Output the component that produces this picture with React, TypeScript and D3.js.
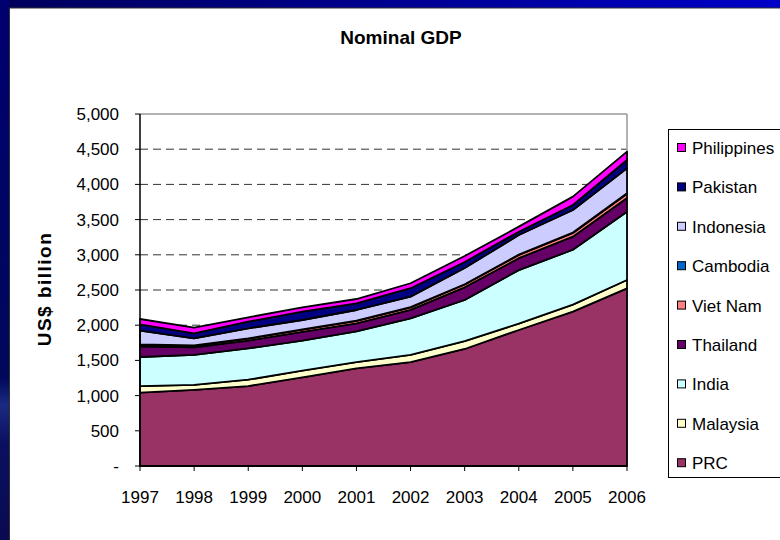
import React from "react";
import * as d3 from "d3";

const years = ["1997", "1998", "1999", "2000", "2001", "2002", "2003", "2004", "2005", "2006"];
const seriesNames = ["PRC", "Malaysia", "India", "Thailand", "Viet Nam", "Cambodia", "Indonesia", "Pakistan", "Philippines"];
const PRC = [1041, 1080, 1136, 1260, 1388, 1477, 1662, 1932, 2192, 2524];
const Malaysia = [95, 72, 90, 94, 88, 100, 113, 90, 100, 118];
const India = [412, 427, 445, 426, 435, 520, 583, 760, 780, 970];
const Thailand = [150, 105, 110, 125, 116, 120, 180, 170, 185, 195];
const VietNam = [27, 27, 29, 31, 33, 35, 40, 45, 53, 61];
const Cambodia = [3, 3, 3, 4, 4, 4, 4, 5, 6, 7];
const Indonesia = [194, 100, 142, 134, 152, 150, 230, 279, 320, 353];
const Pakistan = [90, 70, 95, 118, 95, 119, 86, 47, 71, 119];
const Philippines = [76, 80, 62, 62, 61, 71, 85, 72, 119, 118];
const seriesValues = [PRC, Malaysia, India, Thailand, VietNam, Cambodia, Indonesia, Pakistan, Philippines];
const seriesColors = ["#993366", "#FFFFCC", "#CCFFFF", "#660066", "#FF8080", "#0066CC", "#CCCCFF", "#000080", "#FF00FF"];
const yTicks = [0, 500, 1000, 1500, 2000, 2500, 3000, 3500, 4000, 4500, 5000];

const FONT = "Liberation Sans, Arial, Helvetica, sans-serif";

export default function App() {
  const W = 780, H = 540;
  const left = 140, right = 627, top = 114, bottom = 466;
  const x = d3.scalePoint<string>().domain(years).range([left, right]);
  const y = d3.scaleLinear().domain([0, 5000]).range([bottom, top]);

  const table = years.map((yr, i) => {
    const row: any = { year: yr };
    seriesNames.forEach((n, k) => (row[n] = seriesValues[k][i]));
    return row;
  });
  const stacked = d3.stack<any>().keys(seriesNames)(table);
  const area = d3
    .area<any>()
    .x((d) => x(d.data.year) as number)
    .y0((d) => y(d[0]))
    .y1((d) => y(d[1]));

  const fmt = (v: number) => (v === 0 ? "-" : d3.format(",")(v));
  const legendOrder = [...seriesNames].reverse();
  const legendTop = 148, legendStep = 39.4;

  return (
    <svg width={W} height={H} style={{ position: "absolute", left: 0, top: 0, display: "block" }}>
      <defs>
        <linearGradient id="topbar" x1="0" y1="0" x2="1" y2="0">
          <stop offset="0" stopColor="#00005a" />
          <stop offset="1" stopColor="#0000c8" />
        </linearGradient>
        <linearGradient id="leftbar" x1="0" y1="0" x2="0" y2="1">
          <stop offset="0" stopColor="#000070" />
          <stop offset="0.7" stopColor="#00085a" />
          <stop offset="0.75" stopColor="#1a2a80" />
          <stop offset="0.82" stopColor="#0a1060" />
          <stop offset="1" stopColor="#0a0a50" />
        </linearGradient>
      </defs>
      <rect x={0} y={0} width={W} height={H} fill="#ffffff" />
      <rect x={0} y={0} width={W} height={8} fill="url(#topbar)" />
      <rect x={0} y={0} width={9} height={H} fill="url(#leftbar)" />
      <line x1={9} y1={8} x2={W} y2={8} stroke="#333" strokeWidth={1} />
      <line x1={9.5} y1={8} x2={9.5} y2={H} stroke="#333" strokeWidth={1} />

      <text x={401} y={44} textAnchor="middle" fontFamily={FONT} fontWeight="bold" fontSize={19} fill="#000">
        Nominal GDP
      </text>

      {/* grid lines */}
      {yTicks.filter((t) => t > 0 && t < 5000).map((t) => (
        <line key={t} x1={left} x2={right} y1={y(t)} y2={y(t)} stroke="#333" strokeWidth={1} strokeDasharray="8,5" />
      ))}
      <line x1={left} x2={right} y1={top} y2={top} stroke="#999" strokeWidth={1.5} />
      <line x1={right} x2={right} y1={top} y2={bottom} stroke="#999" strokeWidth={1.5} />

      {/* areas */}
      {stacked.map((s, k) => (
        <path key={s.key} d={area(s) as string} fill={seriesColors[k]} stroke="#000" strokeWidth={1.8} strokeLinejoin="round" />
      ))}

      {/* axes */}
      <line x1={left} x2={left} y1={top} y2={bottom} stroke="#000" strokeWidth={1.5} />
      <line x1={left} x2={right} y1={bottom} y2={bottom} stroke="#000" strokeWidth={1.5} />
      {yTicks.map((t) => (
        <g key={t}>
          <line x1={left - 5} x2={left} y1={y(t)} y2={y(t)} stroke="#000" strokeWidth={1} />
          <text x={119} y={y(t) + 6} textAnchor="end" fontFamily={FONT} fontSize={17} fill="#000">
            {fmt(t)}
          </text>
        </g>
      ))}
      {years.map((yr) => (
        <g key={yr}>
          <line x1={x(yr)} x2={x(yr)} y1={bottom} y2={bottom + 5} stroke="#000" strokeWidth={1} />
          <text x={x(yr)} y={503} textAnchor="middle" fontFamily={FONT} fontSize={17} fill="#000">
            {yr}
          </text>
        </g>
      ))}
      <text
        transform="translate(51,289) rotate(-90)"
        textAnchor="middle"
        fontFamily={FONT}
        fontWeight="bold"
        fontSize={19}
        letterSpacing={1.5}
        fill="#000"
      >
        US$ billion
      </text>

      {/* legend */}
      <rect x={668.5} y={129.5} width={130} height={348} fill="#fff" stroke="#000" strokeWidth={1} />
      {legendOrder.map((n, i) => {
        const k = seriesNames.indexOf(n);
        const cy = legendTop + i * legendStep;
        return (
          <g key={n}>
            <rect x={677.5} y={cy - 4.5} width={8} height={8} fill={seriesColors[k]} stroke="#000" strokeWidth={1} />
            <text x={692} y={cy + 6} fontFamily={FONT} fontSize={17} fill="#000">
              {n}
            </text>
          </g>
        );
      })}
    </svg>
  );
}
